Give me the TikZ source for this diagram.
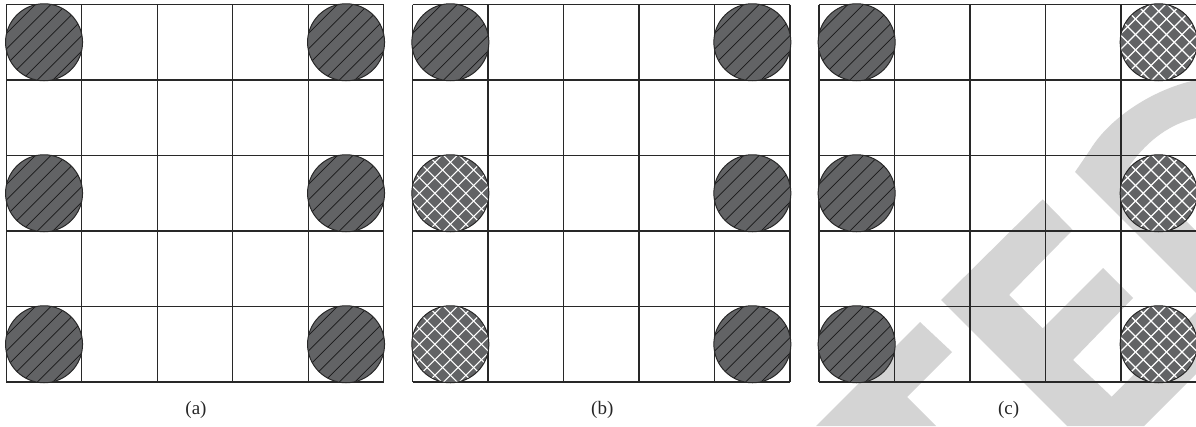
\documentclass[tikz,border=0pt]{standalone}
\usepackage{fontspec}
\setmainfont{Liberation Serif}
\definecolor{disk}{RGB}{98,99,101}
\definecolor{wm}{RGB}{212,212,212}
\definecolor{gridc}{RGB}{40,40,40}
\newcommand\hdisk[2]{%
  \fill[disk] (#1,#2) circle[radius=38.5];
  \begin{scope}
    \clip (#1,#2) circle[radius=38.5];
    \foreach \k in {-7,...,7}
      \draw[hatchline] ({#1+\k*15.5-45},{#2+45}) -- ({#1+\k*15.5+45},{#2-45});
  \end{scope}
  \draw[diskline] (#1,#2) circle[radius=38.5];
}
\newcommand\xdisk[2]{%
  \fill[disk] (#1,#2) circle[radius=38.5];
  \begin{scope}
    \clip (#1,#2) circle[radius=38.5];
    \foreach \k in {-7,...,7} {
      \draw[crossline] ({#1+\k*15.5-45},{#2+45}) -- ({#1+\k*15.5+45},{#2-45});
      \draw[crossline] ({#1+\k*15.5-45},{#2-45}) -- ({#1+\k*15.5+45},{#2+45});
    }
  \end{scope}
  \draw[diskline] (#1,#2) circle[radius=38.5];
}
\begin{document}
\begin{tikzpicture}[x=1pt,y=-1pt,
  gridline/.style={draw=gridc,line width=1.3pt},
  diskline/.style={draw=gridc,line width=1pt},
  hatchline/.style={draw=black!90,line width=0.75pt},
  crossline/.style={draw=white,line width=1.2pt},
  lab/.style={font=\fontsize{19}{22}\selectfont,text=black!85}]
\useasboundingbox (0,0) rectangle (1196,426);
% watermark
\fill[wm] (816,426) -- (920,322) -- (952,352) -- (907,397) -- (936,426) -- cycle;
\fill[wm] (941,300) -- (1042.7,199.3) -- (1072.7,230) -- (1009,295) -- (1042.7,328.3)
  -- (1103,268) -- (1133,298) -- (1073,360) -- (1111.7,396.7) -- (1196,312)
  -- (1196,374) -- (1144,426) -- (1067,426) -- cycle;
\fill[wm] (1196,80) .. controls (1150,90) and (1108,120) .. (1090,150) -- (1075,172)
  -- (1196,293) -- (1196,231) -- (1130,165) .. controls (1148,140) and (1170,124) .. (1196,118) -- cycle;
% grids
\foreach \gx in {6.3,412.6,818.9} {
  \foreach \i in {0,...,5} {
    \draw[gridline] ({\gx+\i*75.5},4.5) -- ({\gx+\i*75.5},382);
    \draw[gridline] (\gx,{4.5+\i*75.5}) -- ({\gx+377.5},{4.5+\i*75.5});
  }
}
% (a)
\hdisk{44.05}{42.25}\hdisk{44.05}{193.25}\hdisk{44.05}{344.25}
\hdisk{346.05}{42.25}\hdisk{346.05}{193.25}\hdisk{346.05}{344.25}
% (b)
\hdisk{450.35}{42.25}\xdisk{450.35}{193.25}\xdisk{450.35}{344.25}
\hdisk{752.35}{42.25}\hdisk{752.35}{193.25}\hdisk{752.35}{344.25}
% (c)
\hdisk{856.65}{42.25}\hdisk{856.65}{193.25}\hdisk{856.65}{344.25}
\xdisk{1158.65}{42.25}\xdisk{1158.65}{193.25}\xdisk{1158.65}{344.25}
% labels
\node[lab] (la) at (196,410) {(a)};
\node[lab] (lb) at (602.3,410) {(b)};
\node[lab] (lc) at (1008.6,410) {(c)};
\end{tikzpicture}
\end{document}
